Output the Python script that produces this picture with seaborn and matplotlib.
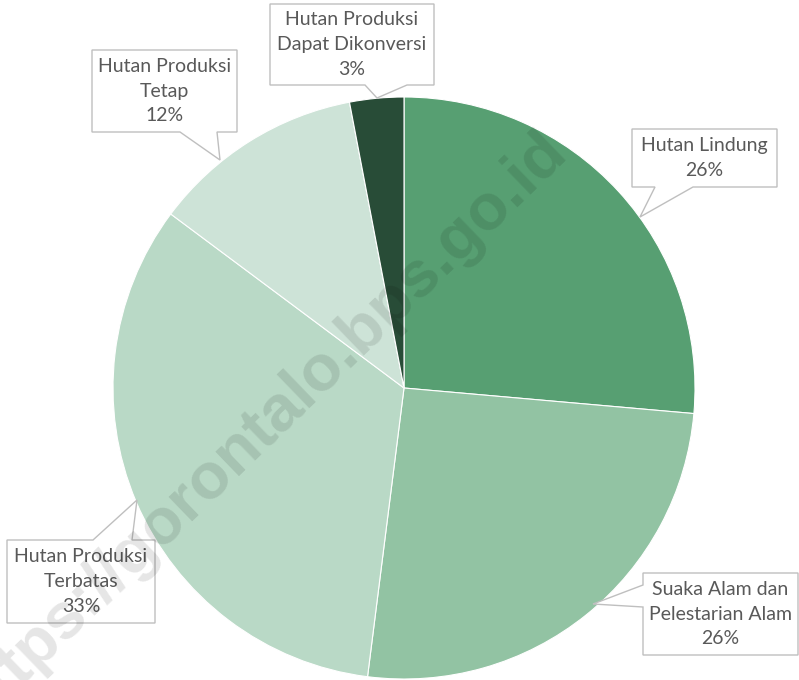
import matplotlib
matplotlib.use("Agg")
import matplotlib.pyplot as plt
from matplotlib.patches import Polygon
import seaborn as sns

# data (shares of forest area, percent)
categories = ["Hutan Lindung", "Suaka Alam dan\nPelestarian Alam", "Hutan Produksi\nTerbatas",
              "Hutan Produksi\nTetap", "Hutan Produksi\nDapat Dikonversi"]
shares = [26.4, 25.6, 33.2, 11.8, 3.0]
colors = ["#579f72", "#92c3a3", "#b9d9c6", "#cde3d7", "#284c37"]

sns.set_theme(style="white")
plt.rcParams['font.family'] = ['Lato', 'DejaVu Sans']

W, H = 799, 680
fig = plt.figure(figsize=(W / 100, H / 100), dpi=100)
ax = fig.add_axes([0, 0, 1, 1])

# pie in pixel-like coordinates (y measured from bottom)
cx, cy, r = 404, H - 388, 291
wedges, _ = ax.pie(shares, colors=colors, startangle=90, counterclock=False,
                   center=(cx, cy), radius=r,
                   wedgeprops=dict(edgecolor="white", linewidth=0.8))
ax.set_xlim(0, W)
ax.set_ylim(0, H)
ax.set_aspect("equal")
ax.axis("off")

# callout layout in pixels from top-left: box, side of the tail, tail base, tail tip
boxes = [(632, 129, 777, 187), (643, 573, 798, 655), (7, 540, 155, 623),
         (92, 50, 237, 132), (270, 4, 434, 85)]
tails = [("bottom", 655, 693, (640, 217)), ("left", 585, 607, (593, 604)),
         ("top", 93, 132, (137, 500)), ("bottom", 180, 217, (220, 160)),
         ("bottom", 365, 407, (377, 98))]


def callout_outline(box, tail):
    x0, y0, x1, y1 = box
    side, a, b, tip = tail
    pts = [(x0, y0)]
    if side == "top":
        pts += [(a, y0), tip, (b, y0)]
    pts += [(x1, y0), (x1, y1)]
    if side == "bottom":
        pts += [(b, y1), tip, (a, y1)]
    pts += [(x0, y1)]
    if side == "left":
        pts += [(x0, b), tip, (x0, a)]
    return [(x, H - y) for x, y in pts]


for lab, val, box, tail in zip(categories, shares, boxes, tails):
    ax.add_patch(Polygon(callout_outline(box, tail), closed=True, fc="white",
                         ec="#bfbfbf", lw=1, zorder=4))
    tx = (box[0] + box[2]) / 2
    ty = (box[1] + box[3]) / 2
    ax.text(tx, H - ty, f"{lab}\n{round(val)}%", ha="center", va="center",
            multialignment="center", fontsize=14, color="#595959",
            linespacing=1.55, zorder=5)

# watermark
ax.text(272, H - 440, "https://gorontalo.bps.go.id", rotation=44, rotation_mode="anchor",
        ha="center", va="baseline", fontsize=47, fontweight="bold",
        family="Liberation Sans", color="black", alpha=0.1, zorder=10)

fig.savefig("out.png", dpi=100)
